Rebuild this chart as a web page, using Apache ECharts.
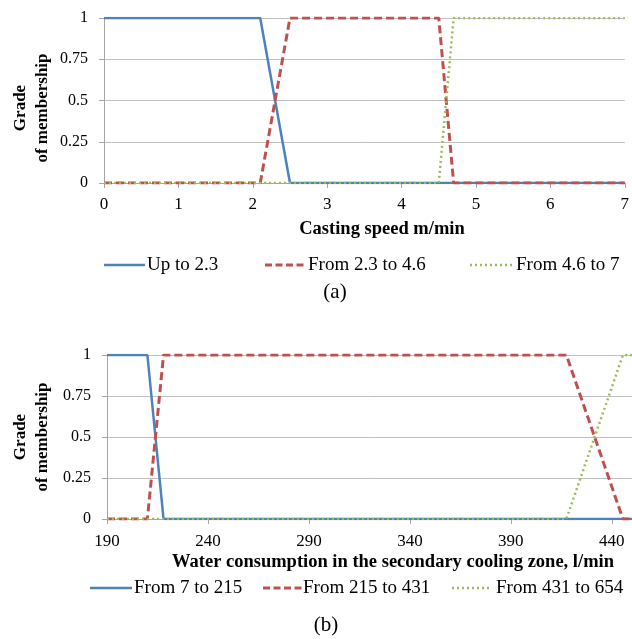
<!DOCTYPE html>
<html>
<head>
<meta charset="utf-8">
<script src="https://cdn.jsdelivr.net/npm/echarts@6/dist/echarts.min.js"></script>
<style>html,body{margin:0;padding:0;background:#fff}#c{width:632px;height:639px}</style>
</head>
<body>
<div id="c"></div>
<script>
// ---- Chart (a): casting speed, m/min ----
const speedNames = ['Up to 2.3', 'From 2.3 to 4.6', 'From 4.6 to 7'];
const speedUpTo23 = [[0, 1], [2.1, 1], [2.5, 0], [7, 0]];
const speed23to46 = [[0, 0], [2.1, 0], [2.5, 1], [4.5, 1], [4.7, 0], [7, 0]];
const speed46to7 = [[0, 0], [4.5, 0], [4.7, 1], [7, 1]];
const speedTicks = [0, 1, 2, 3, 4, 5, 6, 7];

// ---- Chart (b): water consumption, l/min ----
const waterNames = ['From 7 to 215', 'From 215 to 431', 'From 431 to 654'];
const water7to215 = [[190, 1], [210, 1], [218, 0], [450, 0]];
const water215to431 = [[190, 0], [210, 0], [218, 1], [417.5, 1], [445.5, 0], [450, 0]];
const water431to654 = [[190, 0], [417.5, 0], [445.5, 1], [450, 1]];
const waterTicks = [190, 240, 290, 340, 390, 440];

const membershipTicks = [0, 0.25, 0.5, 0.75, 1];

const FONT = 'Liberation Serif';
const BLUE = '#4F81BD', RED = '#C0504D', GREEN = '#9BBB59';
const STYLES = [
  {color: BLUE, width: 2.5, dash: null},
  {color: RED, width: 3, dash: [8, 4]},
  {color: GREEN, width: 2.5, dash: [2, 3]}
];
const chart = echarts.init(document.getElementById('c'), null, {renderer: 'canvas'});

function yAxis(gridIndex) {
  return {
    type: 'value', gridIndex, min: membershipTicks[0], max: membershipTicks[membershipTicks.length - 1], interval: 0.25,
    axisLine: {show: true, lineStyle: {color: '#a6a6a6', width: 1}},
    axisTick: {show: true, length: 5, lineStyle: {color: '#a6a6a6'}},
    splitLine: {show: true, lineStyle: {color: '#c0c0c0', width: 1}},
    axisLabel: {color: '#000', fontFamily: FONT, fontSize: 16, margin: 16,
      formatter: v => String(+v.toFixed(2))}
  };
}
function xAxis(gridIndex, ticks, max, margin) {
  return {
    type: 'value', gridIndex, min: ticks[0], max, interval: ticks[1] - ticks[0],
    axisLine: {show: true, onZero: false, lineStyle: {color: '#a6a6a6', width: 1}},
    axisTick: {show: true, length: 5, lineStyle: {color: '#a6a6a6'}},
    splitLine: {show: false},
    axisLabel: {color: '#000', fontFamily: FONT, fontSize: 17, margin, showMaxLabel: ticks[ticks.length - 1] === max,
      formatter: v => String(v)}
  };
}
function series(name, data, idx, kind) {
  const s = STYLES[kind];
  return {name, type: 'line', data, xAxisIndex: idx, yAxisIndex: idx, symbol: 'none',
    lineStyle: {color: s.color, width: s.width, type: s.dash || 'solid'},
    itemStyle: {color: s.color}, z: 2 + kind, animation: false};
}
function txt(text, x, y, size, bold, rot, align) {
  return {type: 'text', x, y, rotation: rot || 0,
    style: {text, fill: '#000', font: (bold ? 'bold ' : '') + size + 'px "' + FONT + '"',
      textAlign: align || 'center', textVerticalAlign: 'middle', lineHeight: 22}};
}
// legend drawn as line samples + labels
function legendItems(names, y, items) {
  const out = [];
  items.forEach((it, k) => {
    const s = STYLES[k];
    out.push({type: 'line', shape: {x1: it[0], y1: y, x2: it[1], y2: y},
      style: {stroke: s.color, lineWidth: s.width, lineDash: s.dash ? (k === 1 ? [7, 3.5] : [2, 3]) : null}});
    out.push(txt(names[k], it[2], y, 19, false, 0, 'left'));
  });
  return out;
}

chart.setOption({
  backgroundColor: '#fff',
  animation: false,
  grid: [
    {left: 104, top: 18, width: 525, height: 165},
    {left: 107, top: 355, width: 525, height: 164}
  ],
  xAxis: [xAxis(0, speedTicks, 7, 13), xAxis(1, waterTicks, 450, 14)],
  yAxis: [yAxis(0), yAxis(1)],
  series: [
    series(speedNames[0], speedUpTo23, 0, 0),
    series(speedNames[1], speed23to46, 0, 1),
    series(speedNames[2], speed46to7, 0, 2),
    series(waterNames[0], water7to215, 1, 0),
    series(waterNames[1], water215to431, 1, 1),
    series(waterNames[2], water431to654, 1, 2)
  ],
  graphic: [
    txt('Grade\nof membership', 32, 108, 17, true, Math.PI / 2),
    txt('Grade\nof membership', 32, 437, 17, true, Math.PI / 2),
    txt('Casting speed m/min', 382, 229, 18.5, true),
    txt('Water consumption in the secondary cooling zone, l/min', 393, 562, 18.5, true),
    txt('(a)', 335, 292, 21, false),
    txt('(b)', 326, 625, 21, false)
  ].concat(
    legendItems(speedNames, 265, [[104, 145, 147], [265, 307, 308], [470, 512, 516]]),
    legendItems(waterNames, 588, [[90, 132, 134], [263, 302, 303], [452, 491, 496]])
  )
});
</script>
</body>
</html>
